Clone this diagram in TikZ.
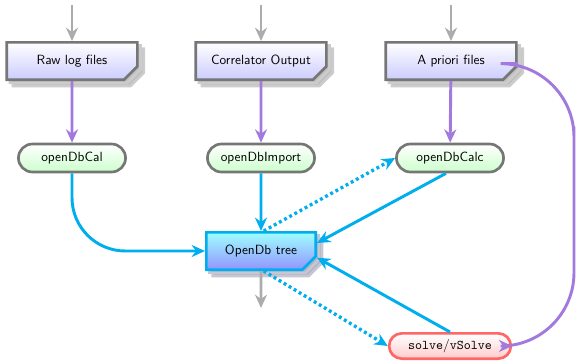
\documentclass[tikz,border=0pt]{standalone}
\usepackage{xcolor}
\usepackage{tikz}
\usetikzlibrary{positioning, arrows.meta, shapes.misc, shadows}

\definecolor{flowblue}{RGB}{0,174,239}
\definecolor{flowpurple}{RGB}{162,122,222}
\definecolor{boxgray}{RGB}{118,118,118}

\begin{document}
\begin{tikzpicture}[
  x=0.75pt, y=-0.75pt,
  font=\sffamily,
  infile/.style={draw=boxgray, chamfered rectangle,
                 chamfered rectangle corners=south east,
                 chamfered rectangle sep=5pt, line width=2pt,
                 top color=white, bottom color=blue!20,
                 minimum width=98pt, minimum height=28pt, align=center,
                 double copy shadow={shadow xshift=2.4pt, shadow yshift=-2.4pt,
                                     fill=gray!50, draw=gray!40}},
  tool/.style={draw=boxgray, rounded rectangle, line width=2pt,
               top color=white, bottom color=green!20,
               minimum width=87pt, minimum height=21pt, align=center},
  dbtree/.style={draw=flowblue, chamfered rectangle,
                 chamfered rectangle corners=south east,
                 chamfered rectangle sep=5pt, line width=2pt,
                 top color=cyan!38, bottom color=blue!42,
                 minimum width=82pt, minimum height=28pt, align=center,
                 double copy shadow={shadow xshift=2.4pt, shadow yshift=-2.4pt,
                                     fill=blue!20!gray!50, draw=blue!10!gray!40}},
  solver/.style={draw=red!60, rounded rectangle, line width=2pt,
                 top color=white, bottom color=red!20,
                 minimum width=98pt, minimum height=19pt, align=center},
  feed/.style={-{Stealth[length=10pt, width=9pt]}, line width=2.2pt, draw=gray!65},
  load/.style={-{Stealth[length=10pt, width=9pt]}, line width=2.2pt, draw=flowpurple},
  arr/.style={-{Stealth[length=10pt, width=9pt]}, line width=2.2pt, draw=flowblue},
  flow/.style={-{Stealth[length=10pt, width=9pt]}, line width=2.5pt, draw=flowblue,
               dash pattern=on 2.2pt off 2.2pt},
]
\useasboundingbox (0,0) rectangle (576,361);

\node[infile] (raw)  at (72,61)  {Raw log files};
\node[infile] (corr) at (261,61) {Correlator Output};
\node[infile] (apri) at (451,61) {A priori files};

\node[tool] (cal)    at (72,158)  {openDbCal};
\node[tool] (import) at (261,158) {openDbImport};
\node[tool] (calc)   at (450,158) {openDbCalc};

\node[dbtree] (tree)  at (261,251) {OpenDb tree};
\node[solver] (solve) at (450,346) {\texttt{solve}/\texttt{vSolve}};

\coordinate (rawin)  at (72,5);
\coordinate (corrin) at (261,5);
\coordinate (apriin) at (451,5);
\coordinate (treeout) at (261,308);
\coordinate (bend)   at (574,200);

\draw[feed] (rawin)  -- (raw);
\draw[feed] (corrin) -- (corr);
\draw[feed] (apriin) -- (apri);
\draw[feed] (tree)   -- (treeout);

\draw[load] (raw)  -- (cal);
\draw[load] (corr) -- (import);
\draw[load] (apri) -- (calc);
\draw[load, rounded corners=55pt] ([yshift=-2pt]apri.east) -| (bend) |- (solve.east);

\draw[arr, rounded corners=40pt] (cal.south) |- (tree.west);
\draw[arr]  (import) -- (tree);
\draw[arr]  ([xshift=-3pt]calc.south) -- ([yshift=6pt]tree.east);
\draw[arr]  (solve.north) -- ([yshift=-5pt]tree.east);
\draw[flow] ([xshift=2pt]tree.north) -- (calc.west);
\draw[flow] ([xshift=2pt]tree.south) -- (solve.west);
\end{tikzpicture}
\end{document}
